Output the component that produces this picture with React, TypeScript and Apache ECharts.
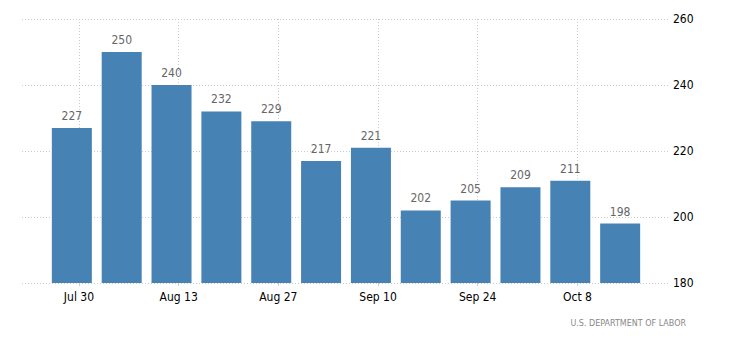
import React, { useEffect, useRef } from "react";
import * as echarts from "echarts";

// Week dates of each bar (ISO) and values
const weekDates = [
  "2016-07-29", "2016-08-05", "2016-08-12", "2016-08-19", "2016-08-26", "2016-09-02",
  "2016-09-09", "2016-09-16", "2016-09-23", "2016-09-30", "2016-10-07", "2016-10-14",
];
const claims = [227, 250, 240, 232, 229, 217, 221, 202, 205, 209, 211, 198];

// Tick dates shown on the x axis and their labels
const tickDates = ["2016-07-30", "2016-08-13", "2016-08-27", "2016-09-10", "2016-09-24", "2016-10-08"];
const tickLabels = ["Jul 30", "Aug 13", "Aug 27", "Sep 10", "Sep 24", "Oct 8"];

// Axis extent (days)
const axisStart = "2016-07-22";
const axisEnd = "2016-10-21";

const yTicks = { min: 180, max: 260, step: 20 };
const sourceText = "U.S. DEPARTMENT OF LABOR";

function dayRange(start: string, end: string): string[] {
  const out: string[] = [];
  const s = Date.parse(start + "T00:00:00Z");
  const e = Date.parse(end + "T00:00:00Z");
  for (let t = s; t <= e; t += 86400000) {
    out.push(new Date(t).toISOString().slice(0, 10));
  }
  return out;
}

export default function App() {
  const ref = useRef<HTMLDivElement>(null);
  useEffect(() => {
    document.body.style.margin = "0";
    if (!ref.current) return;
    const chart = echarts.init(ref.current, undefined, { renderer: "svg" });
    const days = dayRange(axisStart, axisEnd);
    const tickSet = new Set(tickDates);
    const isTick = (_i: number, v: string) => tickSet.has(v);
    const font = "DejaVu Sans Condensed, DejaVu Sans, sans-serif";
    chart.setOption({
      animation: false,
      backgroundColor: "#ffffff",
      grid: { left: 22, right: 60, top: 19, bottom: 68 },
      xAxis: {
        type: "category",
        data: days,
        boundaryGap: false,
        axisLine: { show: false },
        axisTick: {
          show: true,
          interval: isTick,
          length: 3,
          lineStyle: { color: "#cccccc" },
        },
        axisLabel: {
          interval: isTick,
          margin: 8,
          color: "#000000",
          fontSize: 12,
          fontFamily: font,
          formatter: (v: string) => tickLabels[tickDates.indexOf(v)] ?? "",
        },
        splitLine: {
          show: true,
          interval: isTick,
          lineStyle: { color: "#cccccc", type: [1, 2], width: 1 },
        },
      },
      yAxis: {
        type: "value",
        position: "right",
        min: yTicks.min,
        max: yTicks.max,
        interval: yTicks.step,
        axisLine: { show: false },
        axisTick: { show: false },
        axisLabel: { color: "#000000", fontSize: 12, fontFamily: font, margin: 3 },
        splitLine: { show: true, lineStyle: { color: "#cccccc", type: [1, 2], width: 1 } },
      },
      series: [
        {
          type: "bar",
          data: weekDates.map((d, i) => [d, claims[i]]),
          barWidth: 40,
          itemStyle: { color: "#4682b4" },
          label: {
            show: true,
            position: "top",
            distance: 6,
            color: "#666666",
            fontSize: 12,
            fontFamily: font,
          },
        },
      ],
      graphic: [
        {
          type: "text",
          right: 44,
          top: 319,
          style: {
            text: sourceText,
            fill: "#888888",
            fontSize: 8,
            fontFamily: "DejaVu Sans, sans-serif",
          },
        },
      ],
    });
    return () => chart.dispose();
  }, []);
  return <div ref={ref} style={{ width: 730, height: 351 }} />;
}
